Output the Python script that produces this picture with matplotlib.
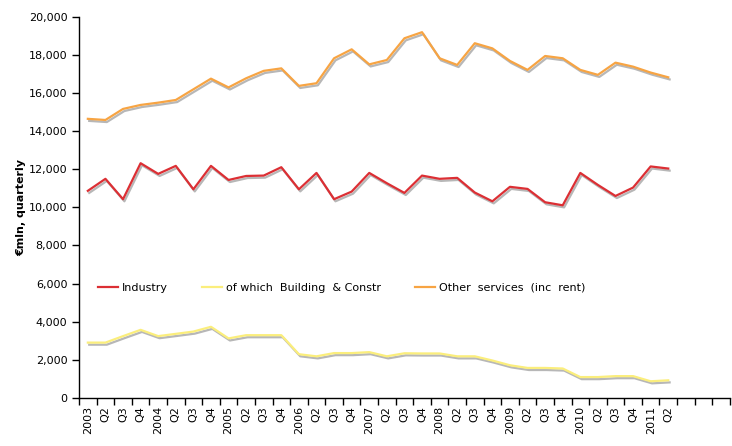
import numpy as np
import matplotlib
matplotlib.use("Agg")
import matplotlib.pyplot as plt
import matplotlib.patheffects as pe
from matplotlib.lines import Line2D
from matplotlib.ticker import FuncFormatter

# Nhãn trục x theo quý
years = [2003, 2004, 2005, 2006, 2007, 2008, 2009, 2010, 2011]
quarters = []
for y in years:
    quarters += [str(y), 'Q2', 'Q3', 'Q4']
quarters = quarters[:34]

# Số liệu (€mln, theo quý)
industry = [10870, 11500, 10430, 12320, 11760, 12180, 10950, 12180, 11440, 11650,
            11670, 12110, 10950, 11810, 10430, 10830, 11810, 11270, 10760, 11670,
            11500, 11550, 10780, 10320, 11080, 10970, 10270, 10110, 11810, 11180,
            10600, 11040, 12150, 12040]
building = [2900, 2900, 3240, 3570, 3240, 3360, 3480, 3730, 3120, 3290,
            3290, 3290, 2290, 2180, 2350, 2350, 2400, 2180, 2340, 2330,
            2330, 2180, 2180, 1960, 1710, 1570, 1570, 1540, 1090, 1090,
            1140, 1140, 870, 920]
other_services = [14650, 14590, 15170, 15380, 15500, 15640, 16200, 16760, 16300, 16780,
                  17170, 17300, 16380, 16520, 17830, 18300, 17510, 17740, 18880, 19200,
                  17830, 17480, 18620, 18350, 17690, 17220, 17950, 17830, 17220, 16960,
                  17600, 17390, 17080, 16830]

names = ['Industry', 'of which  Building  & Constr', 'Other  services  (inc  rent)']
colors = ['#dc2f34', '#fbee7c', '#f7a443']

plt.rcParams['font.family'] = ['DejaVu Sans']
fig = plt.figure(figsize=(7.32, 4.46), dpi=100)
ax = fig.add_axes([0.108, 0.108, 0.889, 0.854])

x = np.arange(len(quarters))
shadow = [pe.SimpleLineShadow(offset=(1, -1.5), shadow_color='#999999', alpha=0.7), pe.Normal()]

for data, c in zip([industry, building, other_services], colors):
    ax.plot(x, data, color=c, lw=1.6, path_effects=shadow)

ax.set_xlim(-0.5, 36.5)
ax.set_ylim(0, 20000)
ax.set_yticks(np.arange(0, 20001, 2000))
ax.yaxis.set_major_formatter(FuncFormatter(lambda v, p: f'{int(v):,}'))

ax.set_xticks(x)
ax.set_xticklabels(quarters, rotation=90, fontsize=8)
ax.set_xticks(np.arange(-0.5, 37, 1), minor=True)
ax.tick_params(axis='x', which='major', length=0, pad=6)
ax.tick_params(axis='x', which='minor', length=5, direction='out', width=1)
ax.tick_params(axis='y', length=5, width=1, labelsize=8)

for s in ['top', 'right']:
    ax.spines[s].set_visible(False)
for s in ['left', 'bottom']:
    ax.spines[s].set_linewidth(1)

ax.set_ylabel('€mln, quarterly', fontsize=8, fontweight='bold', labelpad=2)

# Legend không có bóng
handles = [Line2D([], [], color=c, lw=1.6) for c in colors]
ax.legend(handles, names, loc='center left', bbox_to_anchor=(0.020, 0.289), ncol=3, frameon=False,
          fontsize=8, borderpad=0, handlelength=1.8, handletextpad=0.35, columnspacing=3.1)

fig.savefig('out.png', dpi=100)
